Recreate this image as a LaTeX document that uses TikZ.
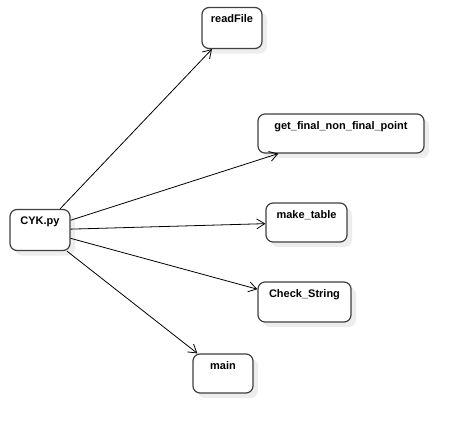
\documentclass[tikz,border=0pt]{standalone}
\usepackage{fontspec}
\setmainfont{Liberation Sans}
\usetikzlibrary{arrows.meta,shadows}
\definecolor{bordercol}{HTML}{404040}
\definecolor{shadowcol}{HTML}{EDEDED}
\tikzset{
  box/.style={draw=bordercol, line width=1.2pt, rounded corners=7pt, fill=white,
    drop shadow={shadow xshift=5pt, shadow yshift=-5pt, fill=shadowcol, opacity=1},
    inner sep=0pt},
  lbl/.style={anchor=north, inner sep=0pt, yshift=-7.5pt, font=\fontsize{11}{13}\selectfont\bfseries, text=black},
  conn/.style={draw=black, line width=0.8pt, -{Straight Barb[length=8pt,width=10pt,line width=0.8pt]}}
}
\begin{document}
\begin{tikzpicture}[x=1pt,y=-1pt]
\useasboundingbox (0,0) rectangle (464,434);
\node[box, minimum width=60pt, minimum height=41pt] (cyk) at (40,230) {};
\node[lbl] at (cyk.north) {CYK.py};
\node[box, minimum width=60pt, minimum height=41pt] (rf) at (232,28) {};
\node[lbl] at (rf.north) {readFile};
\node[box, minimum width=166pt, minimum height=39pt] (gf) at (341,133.5) {};
\node[lbl] at (gf.north) {get\_final\_non\_final\_point};
\node[box, minimum width=81pt, minimum height=39pt] (mt) at (306.5,222.5) {};
\node[lbl] at (mt.north) {make\_table};
\node[box, minimum width=93pt, minimum height=40pt] (cs) at (304.5,302) {};
\node[lbl] at (cs.north) {Check\_String};
\node[box, minimum width=60pt, minimum height=39pt] (mn) at (223,373.5) {};
\node[lbl] at (mn.north) {main};
\draw[conn] (cyk) -- (rf);
\draw[conn] (cyk) -- (gf);
\draw[conn] (cyk) -- (mt);
\draw[conn] (cyk) -- (cs);
\draw[conn] (cyk) -- (mn);
\end{tikzpicture}
\end{document}
